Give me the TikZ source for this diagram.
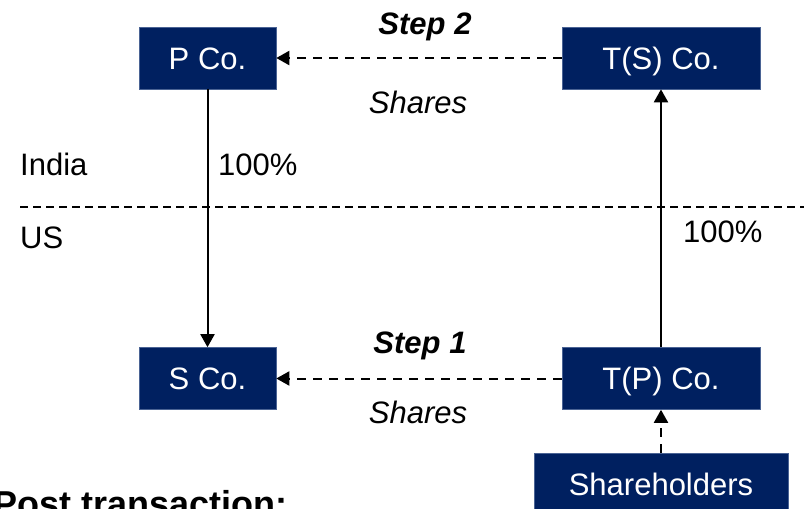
\documentclass[tikz,border=0pt]{standalone}
\usepackage{fontspec}
\setmainfont{Liberation Sans}
\usetikzlibrary{arrows.meta}
\definecolor{navy}{HTML}{002060}
\definecolor{navyedge}{HTML}{4A6394}
\tikzset{
  company/.style={fill=navy, draw=navyedge, line width=0.6pt, text=white,
    inner sep=0pt, minimum height=62pt, text height=22pt, text depth=0pt,
    font=\fontsize{31}{37}\selectfont},
  lbl/.style={inner sep=0pt, font=\fontsize{31}{37}\selectfont},
  flow/.style={line width=2pt, -{Triangle[length=13pt,width=14pt]}},
  dashflow/.style={flow, dash pattern=on 9pt off 7pt},
}
\begin{document}
\begin{tikzpicture}[x=1pt, y=-1pt]
  \useasboundingbox (0,0) rectangle (804,509);
  \clip (0,0) rectangle (804,509);

  % companies
  \node[company, minimum width=137pt] (P)  at (207.5,58)  {P Co.};
  \node[company, minimum width=198pt] (TS) at (661,58)    {T(S) Co.};
  \node[company, minimum width=137pt] (S)  at (207.5,378.5) {S Co.};
  \node[company, minimum width=198pt] (TP) at (661,378.5) {T(P) Co.};
  \node[company, minimum width=254pt] (SH) at (661,484)   {Shareholders};

  % India / US border
  \coordinate (bl) at (20,207);
  \coordinate (br) at (804,207);
  \draw[line width=1.3pt, dash pattern=on 8pt off 5pt] (bl) -- (br);
  \node[lbl, anchor=base west] (india) at (20,175) {India};
  \node[lbl, anchor=base west] (us)    at (20,248) {US};

  % ownership links
  \draw[flow] (P.south) -- (S.north);
  \draw[flow] (TP.north) -- (TS.south);
  \node[lbl, anchor=base west] (pctL) at (218,175) {100\%};
  \node[lbl, anchor=base west] (pctR) at (683,242) {100\%};

  % share exchanges
  \draw[dashflow] (TS.west) -- (P.east);
  \draw[dashflow] (TP.west) -- (S.east);
  \draw[dashflow] (SH.north) -- (TP.south);
  \node[lbl, anchor=base, font=\fontsize{31}{37}\selectfont\bfseries\itshape] (st2) at (425,34) {Step 2};
  \node[lbl, anchor=base, font=\fontsize{31}{37}\selectfont\itshape] (sh2) at (418,113) {Shares};
  \node[lbl, anchor=base, font=\fontsize{31}{37}\selectfont\bfseries\itshape] (st1) at (420,353) {Step 1};
  \node[lbl, anchor=base, font=\fontsize{31}{37}\selectfont\itshape] (sh1) at (418,423) {Shares};

  % caption
  \node[lbl, anchor=base west, font=\fontsize{36}{42}\selectfont\bfseries] (post) at (-7,516) {Post transaction:};
\end{tikzpicture}
\end{document}
